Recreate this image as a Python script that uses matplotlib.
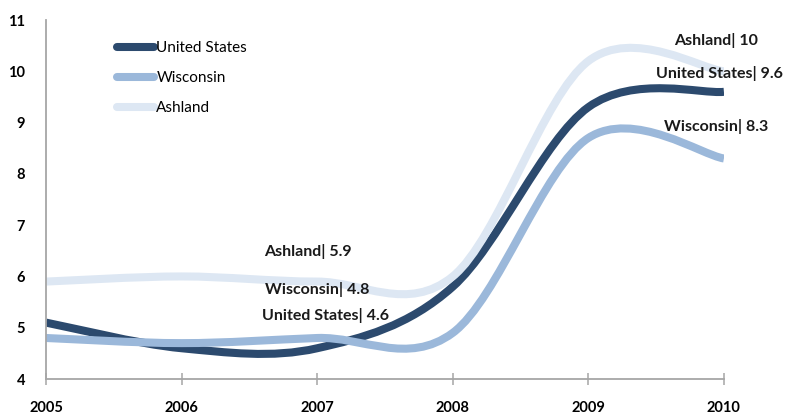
import matplotlib.pyplot as plt
import numpy as np
from matplotlib.lines import Line2D
from matplotlib.patches import PathPatch
from matplotlib.path import Path

years = [2005, 2006, 2007, 2008, 2009, 2010]
united_states = [5.1, 4.6, 4.6, 5.8, 9.3, 9.6]
wisconsin = [4.8, 4.7, 4.8, 4.9, 8.7, 8.3]
ashland = [5.9, 6.0, 5.9, 6.0, 10.2, 10.0]

series_names = ["United States", "Wisconsin", "Ashland"]
series_values = [united_states, wisconsin, ashland]
series_colors = ["#2c4a6e", "#9bb8da", "#dde7f3"]

# which point gets a label, and where the text sits relative to it (pixels)
callouts = [
    ("Ashland", 2007, (-9, 30)),
    ("Wisconsin", 2007, (0, 48)),
    ("United States", 2007, (8, 33)),
    ("Ashland", 2010, (-8, 31)),
    ("United States", 2010, (-4, 18)),
    ("Wisconsin", 2010, (-8, 32)),
]

plt.rcParams["font.family"] = ["Lato", "DejaVu Sans"]


def smooth_path(x, y):
    """Excel-like smoothed line: cubic Bezier through every point."""
    x = np.asarray(x, float)
    y = np.asarray(y, float)
    xp = np.concatenate([[x[0]], x, [x[-1]]])
    yp = np.concatenate([[y[0]], y, [y[-1]]])
    verts = [(x[0], y[0])]
    codes = [Path.MOVETO]
    for i in range(len(x) - 1):
        c1 = (x[i] + (xp[i + 2] - xp[i]) / 6, y[i] + (yp[i + 2] - yp[i]) / 6)
        c2 = (x[i + 1] - (xp[i + 3] - xp[i + 1]) / 6,
              y[i + 1] - (yp[i + 3] - yp[i + 1]) / 6)
        verts += [c1, c2, (x[i + 1], y[i + 1])]
        codes += [Path.CURVE4] * 3
    return Path(verts, codes)


fig = plt.figure(figsize=(7.91, 4.16), dpi=100)
ax = fig.add_axes([0.0582, 0.0889, 0.857, 0.863])

for name, values, color in zip(series_names, series_values, series_colors):
    patch = PathPatch(smooth_path(years, values), fill=False,
                      edgecolor=color, linewidth=5.8, capstyle="butt")
    ax.add_patch(patch)

for name, year, offset in callouts:
    value = series_values[series_names.index(name)][years.index(year)]
    ax.annotate(f"{name}| {value:g}", xy=(year, value), xytext=offset,
                textcoords="offset pixels", ha="center", va="center",
                fontsize=11.5, fontweight="bold", color="#1a1a1a")

ax.set_xlim(years[0], years[-1])
ax.set_ylim(4, 11)
ax.set_xticks(years)
ax.set_yticks(range(4, 12))

for side in ["top", "right"]:
    ax.spines[side].set_visible(False)
for side in ["left", "bottom"]:
    ax.spines[side].set_color("#a6a6a6")
    ax.spines[side].set_linewidth(1.3)

ax.tick_params(axis="x", direction="inout", length=8, width=1.1,
               color="#a6a6a6", pad=12, labelsize=10.5)
ax.tick_params(axis="y", length=0, pad=15, labelsize=10.5)
for label in ax.get_xticklabels() + ax.get_yticklabels():
    label.set_fontweight("bold")

handles = [
    Line2D([], [], color=c, linewidth=5.8, solid_capstyle="round")
    for c in series_colors
]
ax.legend(handles, series_names, loc="upper left",
          bbox_to_anchor=(0.085, 0.98), frameon=False, fontsize=11,
          handlelength=2.4, handletextpad=0.15, labelspacing=1.05)

fig.savefig("out.png", dpi=100)
